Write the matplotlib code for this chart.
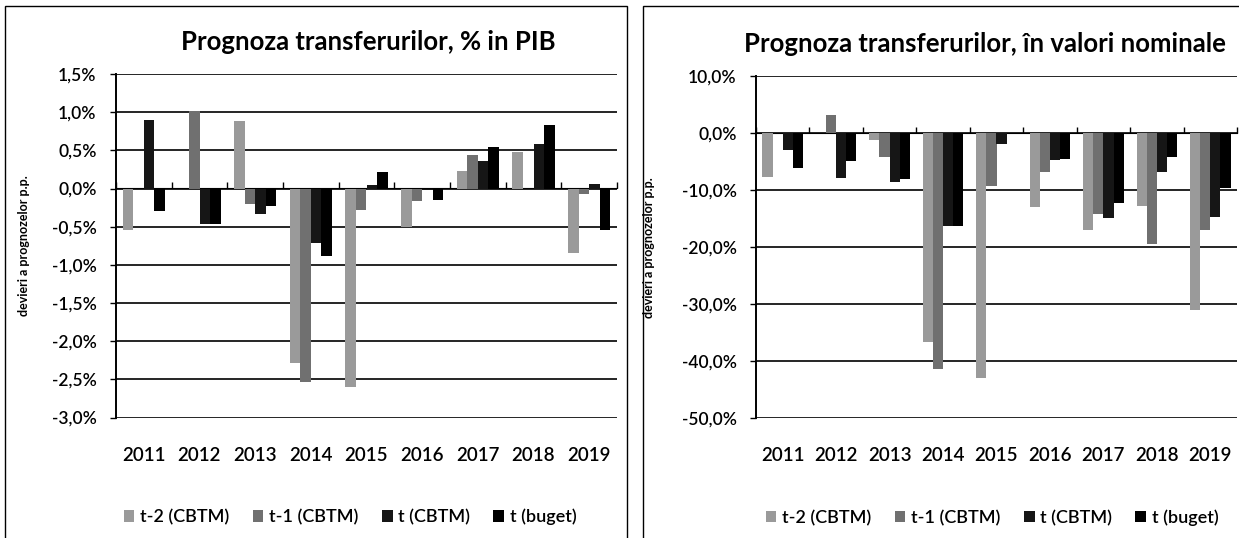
import numpy as np
import matplotlib.pyplot as plt
from matplotlib.patches import Rectangle
from matplotlib.ticker import FuncFormatter, MultipleLocator

plt.rcParams['font.family'] = ['Lato', 'DejaVu Sans']

years = ['2011', '2012', '2013', '2014', '2015', '2016', '2017', '2018', '2019']
labels = ['t-2 (CBTM)', 't-1 (CBTM)', 't (CBTM)', 't (buget)']
colors = ['#9a9a9a', '#707070', '#161616', '#000000']

# deviere, % in PIB (p.p.)
pib_t2 = [-0.55, 0.00, 0.89, -2.28, -2.60, -0.50, 0.23, 0.48, -0.85]
pib_t1 = [0.00, 1.02, -0.20, -2.54, -0.28, -0.17, 0.44, 0.00, -0.07]
pib_t = [0.90, -0.47, -0.33, -0.72, 0.04, -0.02, 0.36, 0.58, 0.06]
pib_buget = [-0.30, -0.47, -0.23, -0.89, 0.22, -0.15, 0.54, 0.83, -0.55]

# deviere, in valori nominale (%)
nom_t2 = [-7.7, 0.0, -1.3, -36.6, -43.0, -13.0, -17.0, -12.7, -31.1]
nom_t1 = [0.0, 3.1, -4.2, -41.3, -9.2, -6.8, -14.2, -19.5, -17.0]
nom_t = [-2.9, -7.8, -8.6, -16.3, -2.0, -4.8, -14.9, -6.9, -14.7]
nom_buget = [-6.2, -4.9, -8.0, -16.3, 0.0, -4.5, -12.2, -4.2, -9.6]

W, H = 1239, 538
fig = plt.figure(figsize=(W / 100, H / 100), dpi=100)

pct = FuncFormatter(lambda v, p: f"{v:.1f}%".replace('.', ','))


def chart(rect, series, ylim, step, title, title_x, ylab_x, leg_x, leg_y):
    ax = fig.add_axes(rect)
    x = np.arange(len(years))
    w = 0.19
    for i, (vals, lab, c) in enumerate(zip(series, labels, colors)):
        ax.bar(x + (i - 1.5) * w, vals, w, color=c, label=lab, zorder=2)
    ax.set_xlim(-0.5, len(years) - 0.5)
    ax.set_ylim(*ylim)
    ax.yaxis.set_major_locator(MultipleLocator(step))
    ax.yaxis.set_major_formatter(pct)
    ax.yaxis.grid(True, color='black', lw=1.2)
    ax.set_axisbelow(True)
    for s in ['top', 'right', 'bottom']:
        ax.spines[s].set_visible(False)
    ax.spines['left'].set_linewidth(1.4)
    ax.tick_params(axis='y', length=4, width=1, labelsize=12.5, pad=10)
    for t in ax.get_yticklabels():
        t.set_fontweight('semibold')
    ax.set_xticks(x)
    ax.set_xticklabels(years, fontweight='semibold')
    ax.tick_params(axis='x', length=0, labelsize=13.5, pad=21)
    # axa categoriilor la 0
    y0 = (0 - ylim[0]) / (ylim[1] - ylim[0])
    sec = ax.secondary_xaxis(y0)
    sec.set_xticks(np.arange(len(years) + 1) - 0.5)
    sec.set_xticklabels([])
    sec.tick_params(axis='x', direction='out', length=4, width=1)
    sec.spines['bottom'].set_linewidth(1.4)
    ax.set_title(title, fontsize=18.5, fontweight='bold', pad=17, x=title_x)
    ax.set_ylabel('devieri a prognozelor p.p.', fontsize=9, fontweight='bold')
    ax.yaxis.set_label_coords(ylab_x, 0.5)
    leg = ax.legend(loc='center', bbox_to_anchor=(leg_x, leg_y), ncol=4, frameon=False,
                    fontsize=13, handlelength=0.6, handleheight=0.6, handletextpad=0.3,
                    columnspacing=1.3)
    for t in leg.get_texts():
        t.set_fontweight('semibold')
    return ax


chart([116 / W, 1 - 417.5 / H, 501 / W, 343.5 / H],
      [pib_t2, pib_t1, pib_t, pib_buget], (-3.0, 1.5), 0.5,
      'Prognoza transferurilor, % in PIB', (368 - 116) / 501,
      (30 - 116) / 501, (350 - 116) / 501, -0.29)
chart([756 / W, 1 - 418.3 / H, 481 / W, 342.3 / H],
      [nom_t2, nom_t1, nom_t, nom_buget], (-50, 10), 10,
      'Prognoza transferurilor, în valori nominale', (985 - 756) / 481,
      (655 - 756) / 481, (992 - 756) / 481, -0.29)

# chenarele graficelor
fig.add_artist(Rectangle((5 / W, -0.1), 622 / W, 1.1 - 6 / H, transform=fig.transFigure,
                         fill=False, edgecolor='black', lw=1))
fig.add_artist(Rectangle((643 / W, -0.1), 0.5, 1.1 - 6 / H, transform=fig.transFigure,
                         fill=False, edgecolor='black', lw=1))

fig.savefig('out.png', dpi=100)
